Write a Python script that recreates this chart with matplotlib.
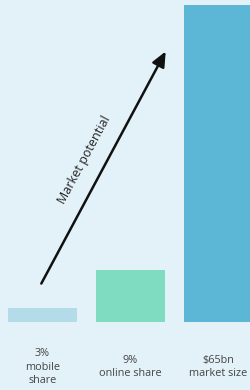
import matplotlib.pyplot as plt

# bar data (heights, in pixels)
labels = ["3%\nmobile\nshare", "9%\nonline share", "$65bn\nmarket size"]
heights = [14, 52, 317]
centers = [42.5, 130.5, 218.5]
colors = ["#b3dce8", "#80dcc0", "#5bb7d5"]

bg = "#e3f2f8"
fig = plt.figure(figsize=(2.51, 3.90), dpi=100)
fig.patch.set_facecolor(bg)
ax = fig.add_axes([0, 0, 1, 1])
ax.set_facecolor(bg)
ax.set_xlim(0, 251)
ax.set_ylim(-68, 322)
ax.axis("off")

ax.bar(centers, heights, width=69, color=colors)

for x, lab in zip(centers, labels):
    ax.text(x, -45, lab, ha="center", va="center", fontsize=7.8,
            color="#444444", linespacing=1.35, family="Open Sans")

# arrow
ax.annotate("", xy=(167, 273), xytext=(40, 36),
            arrowprops=dict(arrowstyle="-|>,head_length=0.9,head_width=0.4",
                            color="#111111", lw=1.8))
ax.text(84, 162, "Market potential", rotation=61.8, ha="center", va="center",
        fontsize=9, color="#222222", family="Open Sans", rotation_mode="anchor")

fig.savefig("out.png", dpi=100, facecolor=bg)
